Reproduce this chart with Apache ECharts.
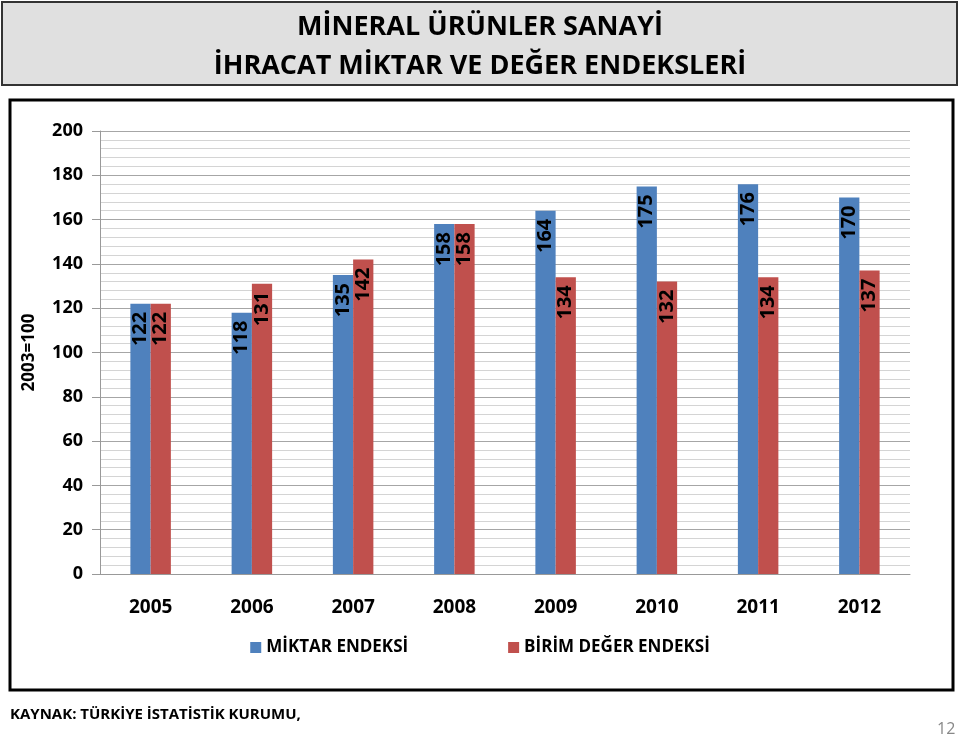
<!DOCTYPE html>
<html><head><meta charset="utf-8">
<script src="https://cdn.jsdelivr.net/npm/echarts@6/dist/echarts.min.js"></script>
<style>html,body{margin:0;padding:0;background:#fff}#c{width:960px;height:736px}</style>
</head><body><div id="c"></div>
<script>
const categories = ['2005','2006','2007','2008','2009','2010','2011','2012'];
const miktar = [122,118,135,158,164,175,176,170];
const birim = [122,131,142,158,134,132,134,137];
const seriesNames = ['MİKTAR ENDEKSİ','BİRİM DEĞER ENDEKSİ'];
const FONT = '"Open Sans",sans-serif';
const chart = echarts.init(document.getElementById('c'));
const lbl = {show:true, position:'insideTop', rotate:90, align:'right', verticalAlign:'middle', distance:8,
  color:'#000', fontSize:20, fontWeight:'bold', fontFamily:FONT};
chart.setOption({
  animation:false,
  graphic:[
    {type:'rect', shape:{x:2,y:2,width:955,height:83}, style:{fill:'#e0e0e0', stroke:'#333', lineWidth:2}, z:-1},
    {type:'rect', shape:{x:10,y:100,width:943,height:590}, style:{fill:'#fff', stroke:'#000', lineWidth:3}, z:-1},
    {type:'text', left:10, top:707, style:{text:'KAYNAK: TÜRKİYE İSTATİSTİK KURUMU,', font:'bold 15px '+FONT, fill:'#000'}},
    {type:'text', left:937, top:721, style:{text:'12', font:'16px '+FONT, fill:'#888'}}
  ],
  title:{text:'MİNERAL ÜRÜNLER SANAYİ\nİHRACAT MİKTAR VE DEĞER ENDEKSLERİ', left:'center', top:3,
    textStyle:{fontFamily:FONT, fontSize:27, fontWeight:'bold', color:'#000', lineHeight:39}},
  legend:{data:seriesNames, bottom:75, left:'center', itemWidth:11, itemHeight:11, itemGap:100, icon:'rect',
    textStyle:{fontFamily:FONT, fontSize:17, fontWeight:'bold', color:'#000'}},
  grid:{left:100, right:50, top:131, bottom:162},
  xAxis:{type:'category', data:categories,
    axisLine:{lineStyle:{color:'#999'}}, axisTick:{show:false},
    axisLabel:{fontFamily:FONT, fontSize:19, fontWeight:'bold', color:'#000', margin:24}},
  yAxis:{type:'value', min:0, max:200, interval:20, name:'2003=100', nameLocation:'middle', nameGap:62, nameRotate:90,
    nameTextStyle:{fontFamily:FONT, fontSize:17, fontWeight:'bold', color:'#000'},
    axisLine:{show:true, lineStyle:{color:'#999'}}, axisTick:{show:true, length:8, lineStyle:{color:'#999'}},
    axisLabel:{fontFamily:FONT, fontSize:18, fontWeight:'bold', color:'#000', margin:17},
    splitLine:{lineStyle:{color:'#a6a6a6'}},
    minorTick:{show:false, splitNumber:5}, minorSplitLine:{show:true, lineStyle:{color:'#d4d4d4'}}},
  series:[
    {name:seriesNames[0], type:'bar', data:miktar, itemStyle:{color:'#4F81BD'}, barGap:'0%', barCategoryGap:'60%', label:lbl},
    {name:seriesNames[1], type:'bar', data:birim, itemStyle:{color:'#C0504D'}, label:lbl}
  ]
});
</script></body></html>
